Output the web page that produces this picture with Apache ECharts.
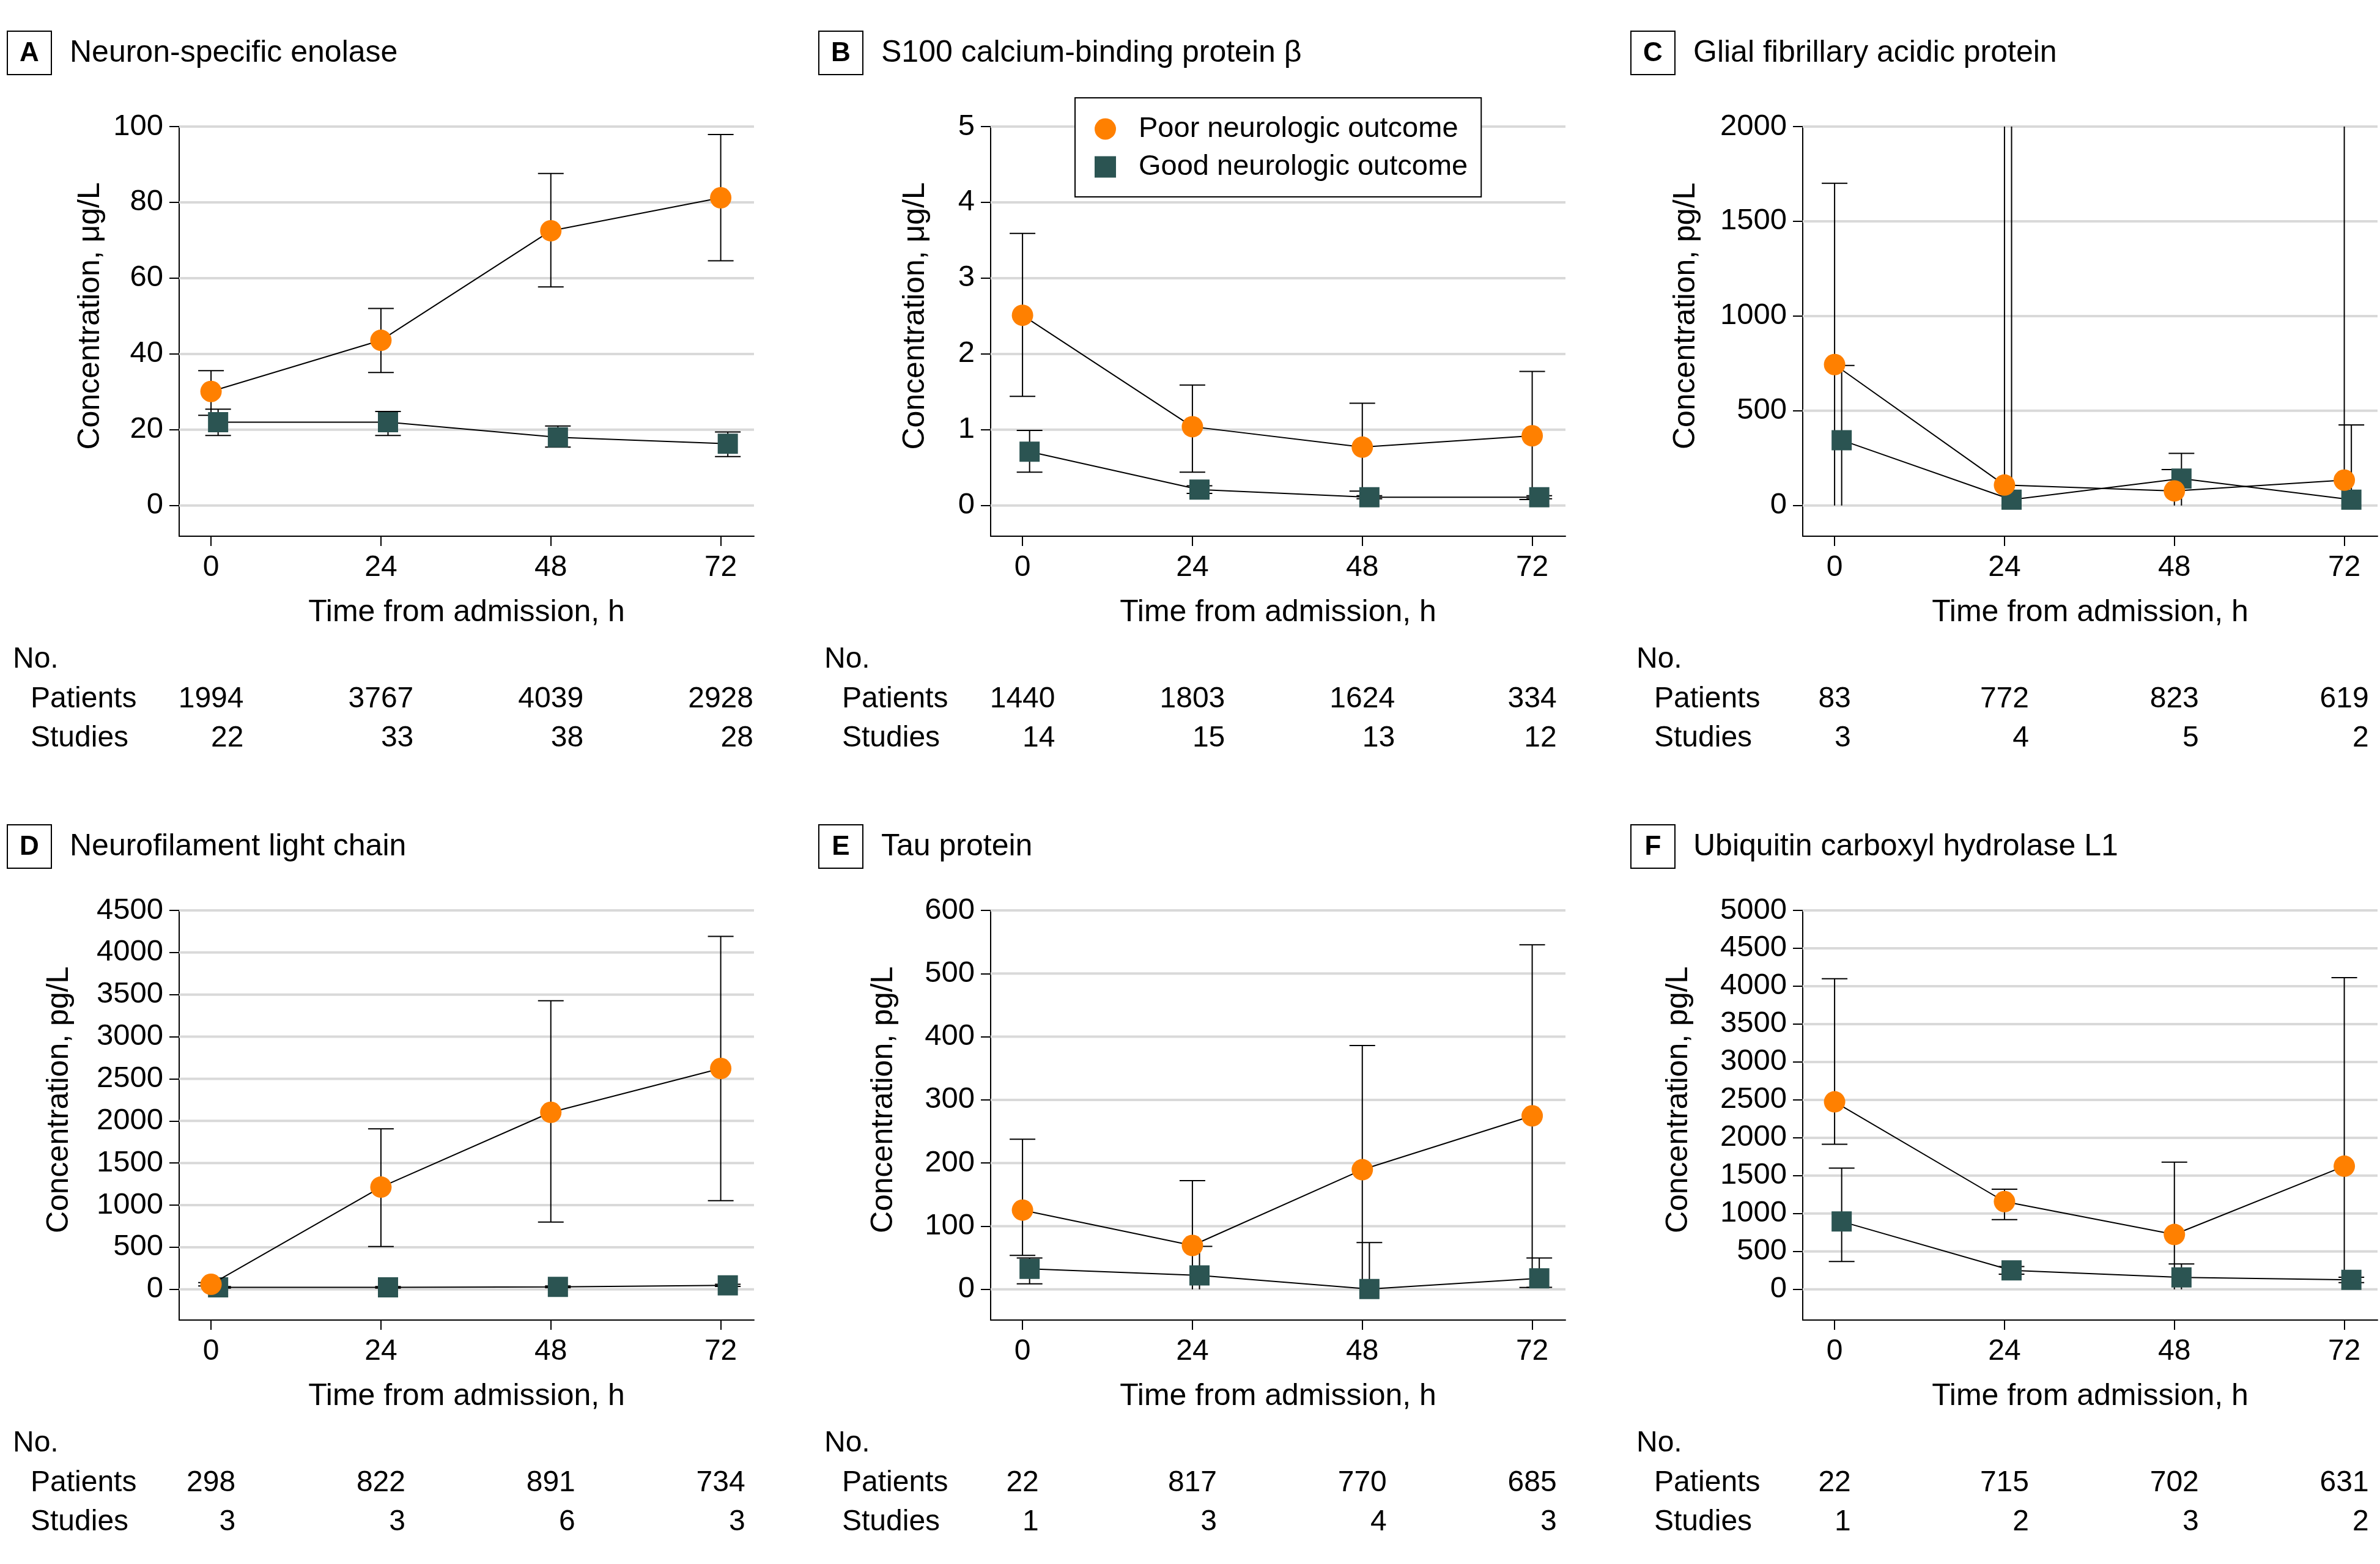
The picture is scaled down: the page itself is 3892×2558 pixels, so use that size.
<!DOCTYPE html>
<html><head><meta charset="utf-8">
<script src="https://cdn.jsdelivr.net/npm/echarts@6/dist/echarts.min.js"></script>
<style>html,body{margin:0;padding:0;background:#fff}#c{width:3892px;height:2558px}</style>
</head><body><div id="c"></div>
<script>
// ---------- DATA ----------
const hours = [0, 24, 48, 72];
const xTickValues = [0, 24, 48, 72];

// A Neuron-specific enolase (µg/L)
const nseTicks = [0, 20, 40, 60, 80, 100];
const nsePoor = [30.1, 43.6, 72.5, 81.2];
const nsePoorLow = [23.8, 35.1, 57.7, 64.6];
const nsePoorHigh = [35.6, 52.0, 87.6, 97.9];
const nseGood = [22.0, 22.0, 18.0, 16.3];
const nseGoodLow = [18.5, 18.5, 15.4, 12.9];
const nseGoodHigh = [25.4, 24.8, 21.0, 19.4];
const nsePatients = [1994, 3767, 4039, 2928];
const nseStudies = [22, 33, 38, 28];

// B S100 calcium-binding protein β (µg/L)
const s100Ticks = [0, 1, 2, 3, 4, 5];
const s100Poor = [2.51, 1.04, 0.77, 0.92];
const s100PoorLow = [1.44, 0.44, 0.19, 0.08];
const s100PoorHigh = [3.59, 1.59, 1.35, 1.77];
const s100Good = [0.71, 0.21, 0.11, 0.11];
const s100GoodLow = [0.44, 0.16, 0.09, 0.09];
const s100GoodHigh = [0.99, 0.26, 0.13, 0.13];
const s100Patients = [1440, 1803, 1624, 334];
const s100Studies = [14, 15, 13, 12];

// C Glial fibrillary acidic protein (pg/L)
const gfapTicks = [0, 500, 1000, 1500, 2000];
const gfapPoor = [744, 108, 77, 134];
const gfapPoorLow = [0, 0, 0, 0];
const gfapPoorHigh = [1701, 2000, 190, 2000];
const gfapGood = [345, 31, 142, 31];
const gfapGoodLow = [0, 0, 0, 0];
const gfapGoodHigh = [739, 2000, 275, 425];
const gfapPatients = [83, 772, 823, 619];
const gfapStudies = [3, 4, 5, 2];

// D Neurofilament light chain (pg/L)
const nflTicks = [0, 500, 1000, 1500, 2000, 2500, 3000, 3500, 4000, 4500];
const nflPoor = [60, 1214, 2102, 2623];
const nflPoorLow = [40, 509, 799, 1054];
const nflPoorHigh = [80, 1907, 3428, 4192];
const nflGood = [24, 24, 30, 47];
const nflGoodLow = [15, 15, 20, 35];
const nflGoodHigh = [33, 33, 40, 60];
const nflPatients = [298, 822, 891, 734];
const nflStudies = [3, 3, 6, 3];

// E Tau protein (pg/L)
const tauTicks = [0, 100, 200, 300, 400, 500, 600];
const tauPoor = [125.5, 69.5, 189.5, 274.7];
const tauPoorLow = [53.7, 0, 0, 3];
const tauPoorHigh = [237.6, 172, 386, 545.5];
const tauGood = [32.4, 22, 0.5, 17.4];
const tauGoodLow = [8.7, 0, 0, 3.2];
const tauGoodHigh = [49.7, 68, 74, 49.7];
const tauPatients = [22, 817, 770, 685];
const tauStudies = [1, 3, 4, 3];

// F Ubiquitin carboxyl hydrolase L1 (pg/L)
const uchTicks = [0, 500, 1000, 1500, 2000, 2500, 3000, 3500, 4000, 4500, 5000];
const uchPoor = [2474, 1158, 724, 1625];
const uchPoorLow = [1914, 921, 0, 0];
const uchPoorHigh = [4099, 1322, 1678, 4112];
const uchGood = [895, 250, 158, 125];
const uchGoodLow = [368, 200, 0, 90];
const uchGoodHigh = [1599, 300, 336, 160];
const uchPatients = [22, 715, 702, 631];
const uchStudies = [1, 2, 3, 2];

// ---------- STYLE / LAYOUT ----------
const FONT = "'Liberation Sans', Arial, Helvetica, sans-serif";
const ORANGE = '#FF8000';
const GREEN = '#2B5452';
const GOOD_SHIFT = 1;          // good-outcome markers drawn 1 h to the right
const colLeft = [293, 1620, 2948];
const rowTop = [207, 1489];
const titleY = [87, 1385];
const GW = 940, GH = 670;

const panels = [
  {letter:'A', title:'Neuron-specific enolase', yName:'Concentration, μg/L', ticks:nseTicks,
   poor:nsePoor, poorLo:nsePoorLow, poorHi:nsePoorHigh, good:nseGood, goodLo:nseGoodLow, goodHi:nseGoodHigh,
   patients:nsePatients, studies:nseStudies, col:0, row:0, yNameOff:-145},
  {letter:'B', title:'S100 calcium-binding protein β', yName:'Concentration, μg/L', ticks:s100Ticks,
   poor:s100Poor, poorLo:s100PoorLow, poorHi:s100PoorHigh, good:s100Good, goodLo:s100GoodLow, goodHi:s100GoodHigh,
   patients:s100Patients, studies:s100Studies, col:1, row:0, yNameOff:-123},
  {letter:'C', title:'Glial fibrillary acidic protein', yName:'Concentration, pg/L', ticks:gfapTicks,
   poor:gfapPoor, poorLo:gfapPoorLow, poorHi:gfapPoorHigh, good:gfapGood, goodLo:gfapGoodLow, goodHi:gfapGoodHigh,
   patients:gfapPatients, studies:gfapStudies, col:2, row:0, yNameOff:-191},
  {letter:'D', title:'Neurofilament light chain', yName:'Concentration, pg/L', ticks:nflTicks,
   poor:nflPoor, poorLo:nflPoorLow, poorHi:nflPoorHigh, good:nflGood, goodLo:nflGoodLow, goodHi:nflGoodHigh,
   patients:nflPatients, studies:nflStudies, col:0, row:1, yNameOff:-196},
  {letter:'E', title:'Tau protein', yName:'Concentration, pg/L', ticks:tauTicks,
   poor:tauPoor, poorLo:tauPoorLow, poorHi:tauPoorHigh, good:tauGood, goodLo:tauGoodLow, goodHi:tauGoodHigh,
   patients:tauPatients, studies:tauStudies, col:1, row:1, yNameOff:-175},
  {letter:'F', title:'Ubiquitin carboxyl hydrolase L1', yName:'Concentration, pg/L', ticks:uchTicks,
   poor:uchPoor, poorLo:uchPoorLow, poorHi:uchPoorHigh, good:uchGood, goodLo:uchGoodLow, goodHi:uchGoodHigh,
   patients:uchPatients, studies:uchStudies, col:2, row:1, yNameOff:-203}
];

const chart = echarts.init(document.getElementById('c'), null, {renderer:'canvas'});

function errRender(axisMax) {
  return function (params, api) {
    const x = api.value(0), lo = api.value(1), hi = api.value(2);
    const a = api.coord([x, lo]), b = api.coord([x, hi]);
    const st = {stroke:'#000', lineWidth:2};
    const ch = [{type:'line', shape:{x1:a[0], y1:a[1], x2:b[0], y2:b[1]}, style:st}];
    if (lo > 0) ch.push({type:'line', shape:{x1:a[0]-21, y1:a[1], x2:a[0]+21, y2:a[1]}, style:st});
    if (hi < axisMax) ch.push({type:'line', shape:{x1:b[0]-21, y1:b[1], x2:b[0]+21, y2:b[1]}, style:st});
    return {type:'group', children:ch};
  };
}
function gridRender(params, api) {
  const y = api.coord([0, api.value(1)])[1];
  const cs = params.coordSys;
  return {type:'line', shape:{x1:cs.x, y1:y, x2:cs.x+cs.width, y2:y}, style:{stroke:'#d9d9d9', lineWidth:4}};
}
const plainNum = v => String(v);

const grids = [], xAxes = [], yAxes = [], series = [];
panels.forEach((p, i) => {
  const max = p.ticks[p.ticks.length - 1];
  grids.push({left:colLeft[p.col], top:rowTop[p.row], width:GW, height:GH, containLabel:false, outerBoundsMode:'none'});
  xAxes.push({
    type:'value', gridIndex:i, min:-4.5, max:76.7,
    axisLine:{show:true, onZero:false, lineStyle:{color:'#000', width:2}},
    axisTick:{show:true, customValues:xTickValues, length:16, lineStyle:{color:'#000', width:2}},
    axisLabel:{show:true, customValues:xTickValues, formatter:plainNum, fontSize:48, color:'#000', margin:28, fontFamily:FONT},
    splitLine:{show:false},
    name:'Time from admission, h', nameLocation:'middle', nameGap:100,
    nameTextStyle:{fontSize:50, color:'#000', fontFamily:FONT}
  });
  yAxes.push({
    type:'value', gridIndex:i, min:-0.081*max, max:max,
    axisLine:{show:true, onZero:false, lineStyle:{color:'#000', width:2}},
    axisTick:{show:true, customValues:p.ticks, length:16, lineStyle:{color:'#000', width:2}},
    axisLabel:{show:true, customValues:p.ticks, formatter:plainNum, fontSize:49, color:'#000', margin:26, fontFamily:FONT},
    splitLine:{show:false}
  });
  series.push({type:'custom', xAxisIndex:i, yAxisIndex:i, silent:true, z:1,
    data:p.ticks.map(v => [0, v]), renderItem:gridRender});
  series.push({type:'custom', xAxisIndex:i, yAxisIndex:i, silent:true, z:2,
    data:hours.map((h, k) => [h, p.poorLo[k], p.poorHi[k]]), renderItem:errRender(max)});
  series.push({type:'custom', xAxisIndex:i, yAxisIndex:i, silent:true, z:2,
    data:hours.map((h, k) => [h + GOOD_SHIFT, p.goodLo[k], p.goodHi[k]]), renderItem:errRender(max)});
  series.push({type:'line', name:'Good neurologic outcome', xAxisIndex:i, yAxisIndex:i, z:4,
    data:hours.map((h, k) => [h + GOOD_SHIFT, p.good[k]]),
    symbol:'rect', symbolSize:33, showSymbol:true,
    itemStyle:{color:GREEN, borderWidth:0}, lineStyle:{color:'#000', width:2}, emphasis:{disabled:true}});
  series.push({type:'line', name:'Poor neurologic outcome', xAxisIndex:i, yAxisIndex:i, z:5,
    data:hours.map((h, k) => [h, p.poor[k]]),
    symbol:'circle', symbolSize:35, showSymbol:true,
    itemStyle:{color:ORANGE, borderWidth:0}, lineStyle:{color:'#000', width:2}, emphasis:{disabled:true}});
});

chart.setOption({
  animation:false,
  backgroundColor:'#fff',
  textStyle:{fontFamily:FONT},
  grid:grids, xAxis:xAxes, yAxis:yAxes, series:series,
  legend:{
    show:true, orient:'vertical', left:1758, top:160,
    padding:[26, 22, 24, 32], itemGap:12, itemWidth:35, itemHeight:35,
    borderColor:'#000', borderWidth:2, backgroundColor:'#fff',
    selectedMode:false,
    textStyle:{fontSize:47, lineHeight:50, color:'#000', fontFamily:FONT, padding:[0, 0, 0, 32]},
    itemStyle:{borderWidth:0},
    data:[{name:'Poor neurologic outcome', icon:'circle'}, {name:'Good neurologic outcome', icon:'rect'}]
  }
});

// ---------- TEXT (titles, axis names, tables) ----------
const ctx = document.createElement('canvas').getContext('2d');
function textW(s, size) { ctx.font = size + 'px ' + FONT; return ctx.measureText(s).width; }
function txt(x, y, s, size, align, extra) {
  return Object.assign({type:'text', x:x, y:y, silent:true,
    style:{text:s, fontSize:size, fontFamily:FONT, fill:'#000', align:align, verticalAlign:'middle'}}, extra || {});
}
const els = [];
panels.forEach((p, i) => {
  const L = colLeft[p.col], T = rowTop[p.row], ty = titleY[p.row];
  const max = p.ticks[p.ticks.length - 1];
  els.push({type:'rect', silent:true, shape:{x:L-281, y:ty-36, width:72, height:71},
    style:{fill:'#fff', stroke:'#000', lineWidth:2}});
  els.push({type:'text', x:L-245, y:ty+1, silent:true,
    style:{text:p.letter, fontSize:44, fontWeight:'bold', fontFamily:FONT, fill:'#000', align:'center', verticalAlign:'middle'}});
  els.push(txt(L-179, ty, p.title, 50, 'left'));
  const y0 = chart.convertToPixel({yAxisIndex:i}, 0);
  const yM = chart.convertToPixel({yAxisIndex:i}, max);
  els.push(txt(L + p.yNameOff, (y0 + yM) / 2, p.yName, 50, 'center', {rotation:Math.PI/2}));
  els.push(txt(L-272, T+872, 'No.', 48, 'left'));
  els.push(txt(L-243, T+937, 'Patients', 48, 'left'));
  els.push(txt(L-243, T+1001, 'Studies', 48, 'left'));
  hours.forEach((h, k) => {
    const x = chart.convertToPixel({xAxisIndex:i}, h);
    const right = x + textW(String(p.patients[k]), 48) / 2;
    els.push(txt(right, T+937, String(p.patients[k]), 48, 'right'));
    els.push(txt(right, T+1001, String(p.studies[k]), 48, 'right'));
  });
});
chart.setOption({graphic:{elements:els}});
</script>
</body></html>
